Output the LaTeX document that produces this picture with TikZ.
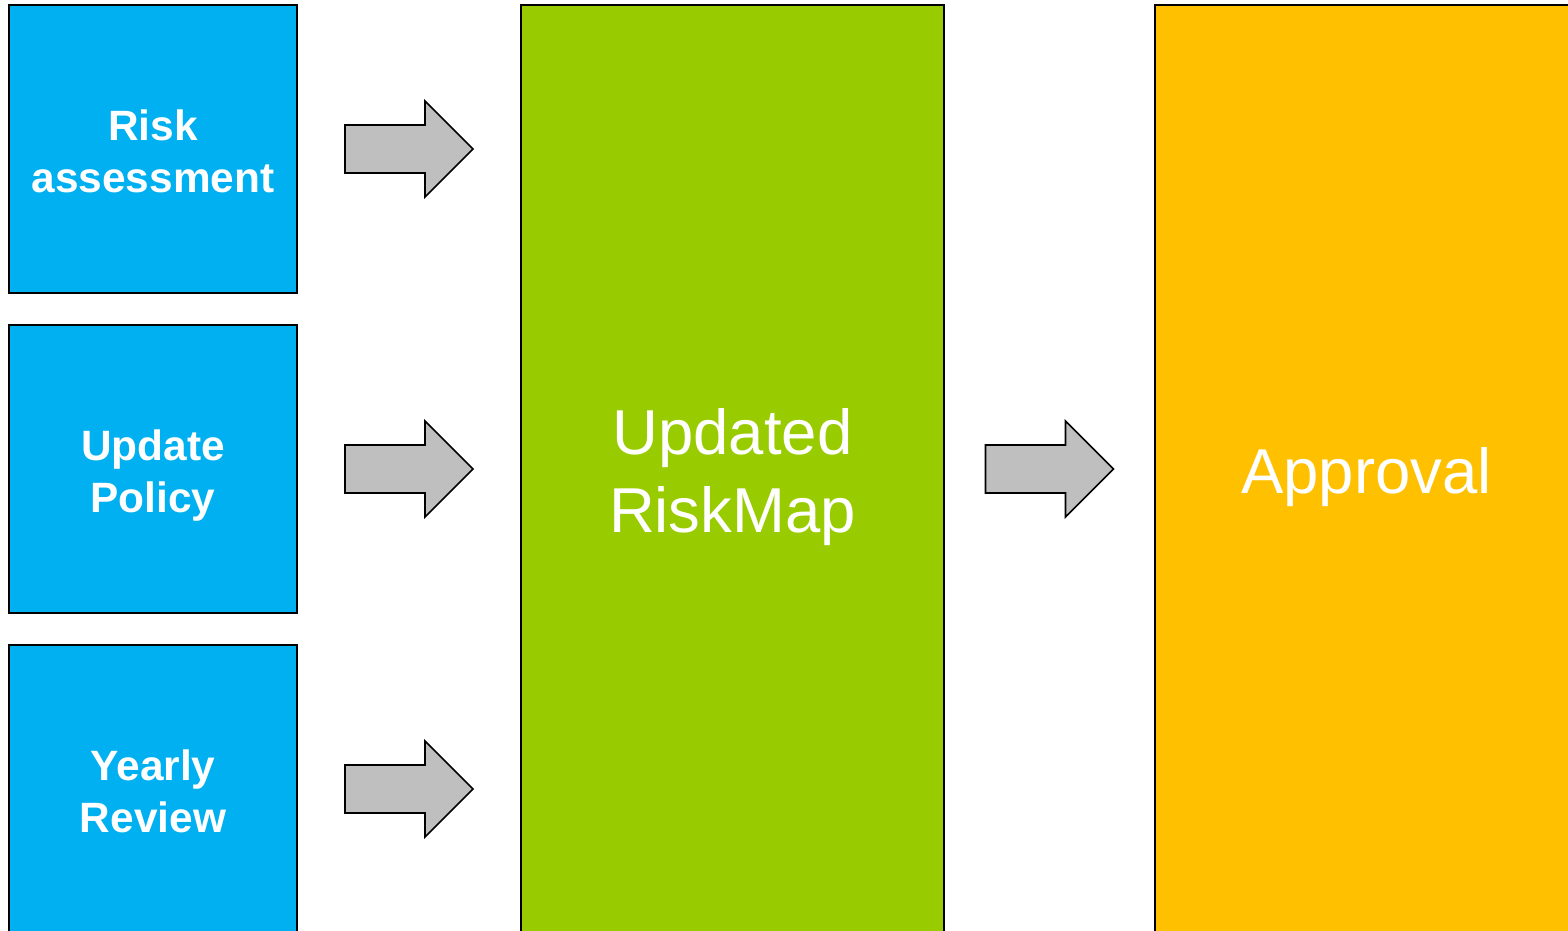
\documentclass[tikz,border=0pt]{standalone}
\usepackage{fontspec}
\setmainfont{Liberation Sans}
\usetikzlibrary{calc}
\definecolor{stepblue}{HTML}{00B0F0}
\definecolor{mapgreen}{HTML}{99CC00}
\definecolor{okorange}{HTML}{FFC000}
\definecolor{arrowgray}{HTML}{BFBFBF}
% one text line with no depth and a fixed height a little above the capitals,
% so that multi-line labels sit centred on their capitals
\newcommand\capline[1]{\smash{#1}\rule{0pt}{\dimexpr\fontcharht\font`A+4.5pt\relax}}
\tikzset{
  x=0.75pt, y=-0.75pt,
  box/.style={draw=black, line width=1.1pt, inner sep=0pt, align=center, text=white},
  inputbox/.style={box, fill=stepblue, minimum width=216pt, minimum height=216pt,
    font=\bfseries\fontsize{31.8}{39}\selectfont},
  bigbox/.style={box, minimum width=317.25pt, minimum height=696pt,
    font=\fontsize{47.6}{58.5}\selectfont},
  blockarrow/.pic={
    \draw[fill=arrowgray, draw=black, line width=1.3pt, line join=miter]
      (-64,-24) -- (16,-24) -- (16,-48) -- (64,0) -- (16,48) -- (16,24) -- (-64,24) -- cycle;
  }
}
\begin{document}
\begin{tikzpicture}
\useasboundingbox (0,0) rectangle (1568,931);
\clip (0,0) rectangle (1568,931);
% input steps
\node[inputbox] (risk)   at (153,149) {\capline{Risk}\\\capline{assessment}};
\node[inputbox] (policy) at (153,469) {\capline{Update}\\\capline{Policy}};
\node[inputbox] (review) at (153,789) {\capline{Yearly}\\\capline{Review}};
% result and approval
\node[bigbox, fill=mapgreen]  (riskmap)  at (732.5,469) {\capline{Updated}\\\capline{RiskMap}};
\node[bigbox, fill=okorange]  (approval) at (1366.5,469) {\capline{Approval}};
% block arrows between the boxes
\path ($(risk.east)!0.5!(riskmap.west |- risk.east)$) pic {blockarrow};
\path ($(policy.east)!0.5!(riskmap.west |- policy.east)$) pic {blockarrow};
\path ($(review.east)!0.5!(riskmap.west |- review.east)$) pic {blockarrow};
\path ($(riskmap.east)!0.5!(approval.west)$) pic {blockarrow};
\end{tikzpicture}
\end{document}
